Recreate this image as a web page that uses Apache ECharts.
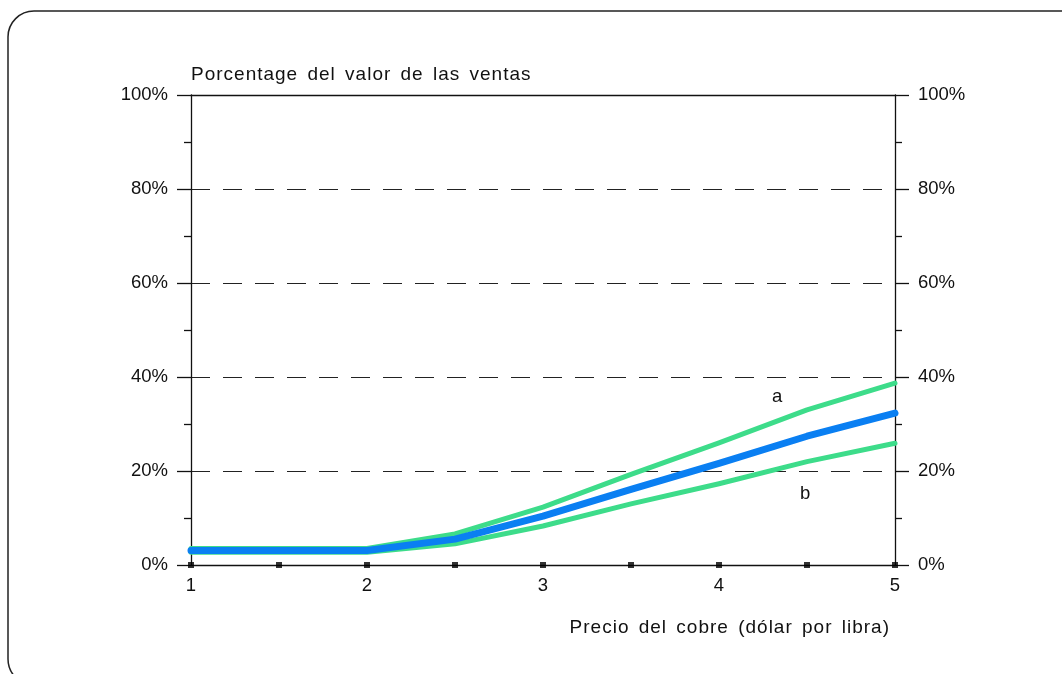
<!DOCTYPE html>
<html>
<head>
<meta charset="utf-8">
<script src="https://cdn.jsdelivr.net/npm/echarts@6/dist/echarts.min.js"></script>
<style>
  html, body { margin: 0; padding: 0; background: #fff; }
  #chart { width: 1062px; height: 674px; }
</style>
</head>
<body>
<div id="chart"></div>
<script>
// Copper price (USD per pound) on the horizontal axis
const precios = [1, 2, 2.5, 3, 3.5, 4, 4.5, 5];
// Share of sales value (%) – central estimate and the two bounds a / b
const central = [3.1, 3.1, 5.5, 10.4, 16.1, 21.6, 27.4, 32.3];
const curvaA  = [3.5, 3.5, 6.6, 12.3, 19.3, 26.0, 33.0, 38.7];
const curvaB  = [2.7, 2.7, 4.5, 8.3, 13.0, 17.3, 22.0, 25.9];
// Square markers along the price axis
const marcasX = [1, 1.5, 2, 2.5, 3, 3.5, 4, 4.5, 5];
const etiquetasY = ['0%', '20%', '40%', '60%', '80%', '100%'];
const tituloY = 'Porcentage del valor de las ventas';
const tituloX = 'Precio del cobre (dólar por libra)';

const FONT = '"Liberation Sans", Arial, Helvetica, sans-serif';
const INK = '#111';
const VERDE = '#3ddc8a';
const AZUL = '#0a7ff2';

const pares = (ys) => precios.map((x, i) => [x, ys[i]]);

// Axis titles use slight tracking and wider word gaps: each glyph is a rich-text token
const espaciado = (s) => s.split('').map((c) => (c === ' ' ? '{s| }' : '{t|' + c + '}')).join('');
const richEspaciado = {
  t: { fontSize: 19, fontFamily: FONT, color: INK, padding: [0, 1, 0, 0] },
  s: { fontSize: 19, fontFamily: FONT, color: INK, padding: [0, 4, 0, 0] }
};

const ejeY = (pos) => ({
  type: 'value',
  position: pos,
  min: 0, max: 100, interval: 20,
  axisLine: { show: true, lineStyle: { color: INK, width: 1.3 } },
  axisTick: { show: true, length: 14, lineStyle: { color: INK, width: 1.3 } },
  minorTick: { show: true, splitNumber: 2, length: 7, lineStyle: { color: INK, width: 1.3 } },
  axisLabel: {
    margin: 23, fontSize: 18.5, fontFamily: FONT, color: INK,
    formatter: (v) => etiquetasY[Math.round(v / 20)]
  },
  splitLine: pos === 'left' ? {
    show: true, showMinLine: false, showMaxLine: false,
    lineStyle: { color: '#222', width: 1.2, type: [19, 13] }
  } : { show: false }
});

const ejeIzq = Object.assign(ejeY('left'), {
  name: espaciado(tituloY),
  nameLocation: 'end', nameGap: 20,
  nameTextStyle: { align: 'left', verticalAlign: 'middle', rich: richEspaciado }
});

const chart = echarts.init(document.getElementById('chart'), null, { renderer: 'canvas' });
chart.setOption({
  animation: false,
  backgroundColor: '#fff',
  textStyle: { fontFamily: FONT },
  title: {
    text: espaciado(tituloX),
    right: 168, top: 613,
    textStyle: { fontSize: 19, fontWeight: 'normal', fontFamily: FONT, color: INK, rich: richEspaciado }
  },
  graphic: [{
    type: 'rect',
    shape: { x: 8, y: 11, width: 1100, height: 674, r: 26 },
    style: { fill: 'none', stroke: '#222', lineWidth: 1.5 },
    silent: true
  }],
  grid: { left: 191, right: 167, top: 95, bottom: 109 },
  xAxis: [{
    type: 'value', position: 'bottom',
    min: 1, max: 5, interval: 0.5,
    axisLine: { show: true, onZero: false, lineStyle: { color: INK, width: 1.3 } },
    axisTick: { show: false },
    splitLine: { show: false },
    axisLabel: {
      margin: 11, fontSize: 18.5, fontFamily: FONT, color: INK,
      formatter: (v) => Number.isInteger(v) ? String(v) : ''
    }
  }, {
    type: 'value', position: 'top',
    min: 1, max: 5,
    axisLine: { show: true, onZero: false, lineStyle: { color: INK, width: 1.3 } },
    axisTick: { show: false }, axisLabel: { show: false }, splitLine: { show: false }
  }],
  yAxis: [ejeIzq, ejeY('right')],
  series: [{
    name: 'b', type: 'line', data: pares(curvaB), symbol: 'none',
    lineStyle: { color: VERDE, width: 5, cap: 'round', join: 'round' },
    markPoint: {
      symbol: 'circle', symbolSize: 0,
      label: { show: true, formatter: 'b', color: INK, fontSize: 18.5, fontFamily: FONT, position: 'inside' },
      data: [{ coord: [4.49, 15.2] }]
    }
  }, {
    name: 'a', type: 'line', data: pares(curvaA), symbol: 'none',
    lineStyle: { color: VERDE, width: 5, cap: 'round', join: 'round' },
    markPoint: {
      symbol: 'circle', symbolSize: 0,
      label: { show: true, formatter: 'a', color: INK, fontSize: 18.5, fontFamily: FONT, position: 'inside' },
      data: [{ coord: [4.33, 35.8] }]
    }
  }, {
    name: 'central', type: 'line', data: pares(central), symbol: 'none',
    lineStyle: { color: AZUL, width: 7, cap: 'round', join: 'round' }
  }, {
    name: 'marcas', type: 'scatter', data: marcasX.map((x) => [x, 0]),
    symbol: 'rect', symbolSize: 6, clip: false, z: 5,
    itemStyle: { color: '#000' }
  }]
});
</script>
</body>
</html>
